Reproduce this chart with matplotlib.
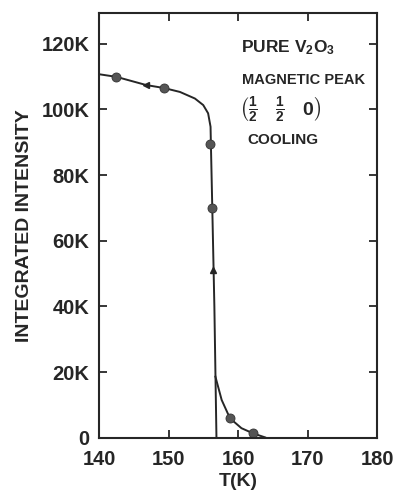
import matplotlib.pyplot as plt
import numpy as np

plt.rcParams['font.family'] = ['Liberation Sans', 'DejaVu Sans']
plt.rcParams['font.weight'] = 'bold'
plt.rcParams['axes.labelweight'] = 'bold'
plt.rcParams['mathtext.fontset'] = 'custom'
plt.rcParams['mathtext.rm'] = 'Liberation Sans:bold'
plt.rcParams['mathtext.bf'] = 'Liberation Sans:bold'
plt.rcParams['mathtext.it'] = 'Liberation Sans:bold'

# measured points (cooling)
t_points = [142.5, 149.35, 156.0, 156.2, 158.85, 162.2]
i_points = [109.9, 106.5, 89.5, 70.0, 5.9, 1.3]

# drawn guide curve, upper branch down to the transition
t_curve = [140.0, 142.5, 146.8, 149.35, 151.65, 153.8, 155.0, 155.7, 156.05, 156.1, 156.3, 156.6, 156.9]
i_curve = [110.7, 109.9, 107.4, 106.5, 105.3, 103.3, 101.3, 98.8, 94.7, 89.5, 70.0, 40.0, 0.0]

# tail above the transition
t_tail = [156.75, 157.65, 158.85, 160.5, 162.2, 163.9]
i_tail = [18.6, 11.5, 5.9, 2.9, 1.3, 0.1]

# direction arrows on the curve
t_arrow = [146.8, 156.35]
i_arrow = [107.4, 51.0]
arrow_marks = ['<', '^']

y_ticks = [0, 20, 40, 60, 80, 100, 120]
y_labels = ['0', '20K', '40K', '60K', '80K', '100K', '120K']
x_ticks = [140, 150, 160, 170, 180]

ink = '#262626'

fig = plt.figure(figsize=(4, 4.96), dpi=100)
ax = fig.add_axes([0.2475, 0.1175, 0.695, 0.856])

ax.plot(t_curve, i_curve, color=ink, lw=1.4)
ax.plot(t_tail, i_tail, color=ink, lw=1.4)
ax.plot(t_points, i_points, 'o', color='#555555', ms=6.5, mec='#333333', mew=0.6)
for t, i, m in zip(t_arrow, i_arrow, arrow_marks):
    ax.plot(t, i, marker=m, color=ink, ms=5)

ax.set_xlim(140, 180)
ax.set_ylim(0, 129.3)
ax.set_xticks(x_ticks)
ax.set_yticks(y_ticks)
ax.set_yticklabels(y_labels)

ax.tick_params(direction='in', length=6, width=1.3, top=True, right=True,
               labelsize=14.5, colors=ink, pad=7)
ax.tick_params(axis='x', pad=9)
for s in ax.spines.values():
    s.set_linewidth(1.5)
    s.set_color(ink)

ax.set_xlabel('T(K)', fontsize=14, color=ink, labelpad=3)
ax.set_ylabel('INTEGRATED INTENSITY', fontsize=14, color=ink, labelpad=6)

ax.text(0.51, 0.918, r'PURE V$_\mathbf{2}$O$_\mathbf{3}$', transform=ax.transAxes,
        fontsize=12.5, color=ink, va='center')
ax.text(0.515, 0.842, 'MAGNETIC PEAK', transform=ax.transAxes,
        fontsize=10.5, color=ink, va='center')
ax.text(0.505, 0.773, r'$\left(\frac{1}{2}\ \ \ \frac{1}{2}\ \ \ 0\right)$',
        transform=ax.transAxes, fontsize=14, color=ink, va='center')
ax.text(0.535, 0.701, 'COOLING', transform=ax.transAxes,
        fontsize=11, color=ink, va='center')

fig.savefig('out.png', dpi=100)
